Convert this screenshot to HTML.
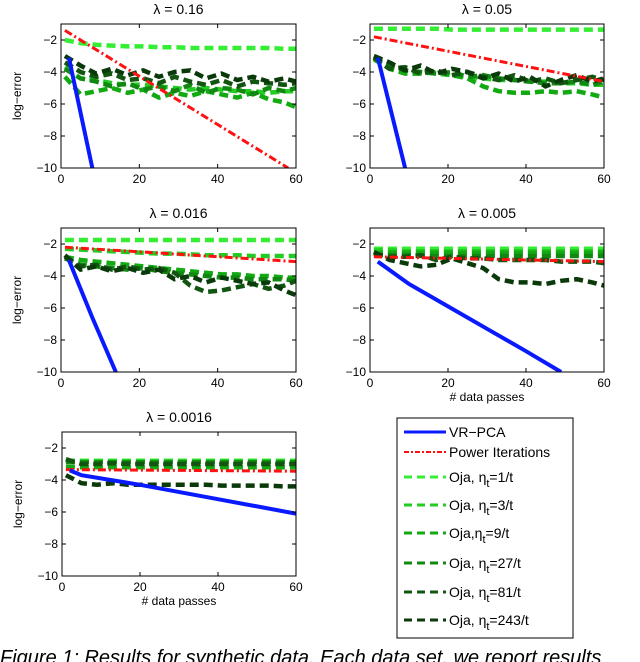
<!DOCTYPE html>
<html><head><meta charset="utf-8"><style>
html,body{margin:0;padding:0;background:#fff;width:640px;height:662px;overflow:hidden}
svg{display:block}
text{font-family:"Liberation Sans",sans-serif}
</style></head><body>
<svg id="fig" width="640" height="662" viewBox="0 0 640 662" xmlns="http://www.w3.org/2000/svg"></svg>
<script>
const xsOja = [1,5,9,13,17,21,25,29,33,37,41,45,49,53,57,60];
const panelTitles = ["λ = 0.16","λ = 0.05","λ = 0.016","λ = 0.005","λ = 0.0016"];
const xTicks = [0,20,40,60];
const yTicks = [-10,-8,-6,-4,-2];
const vrX = [[2,8],[2,9],[2,8,14],[2,10,20,30,40,49],[2,5,20,40,60]];
const vrY = [[-3.1,-10],[-3.1,-10],[-3,-6.6,-10],[-3.1,-4.5,-5.9,-7.3,-8.7,-10],[-3.4,-3.7,-4.3,-5.2,-6.1]];
const pwX = [[1,58],[1,60],[1,60],[1,60],[1,60]];
const pwY = [[-1.4,-10],[-1.8,-4.6],[-2.2,-3.1],[-2.8,-3.1],[-3.35,-3.45]];
const ojaLabels = ["Oja, ηt=1/t","Oja, ηt=3/t","Oja,ηt=9/t","Oja, ηt=27/t","Oja, ηt=81/t","Oja, ηt=243/t"];
const oja0 = [
 [-2,-2.2,-2.3,-2.35,-2.4,-2.4,-2.45,-2.45,-2.5,-2.5,-2.5,-2.5,-2.5,-2.5,-2.55,-2.55],
 [-3.7,-4.4,-4.5,-4.7,-4.8,-4.8,-4.9,-5.0,-5.1,-5.0,-5.1,-5.2,-5.2,-5.3,-5.2,-5.2],
 [-4.3,-5.4,-5.2,-5.0,-5.3,-5.1,-5.6,-5.3,-5.5,-5.2,-5.4,-5.6,-5.3,-5.7,-5.9,-6.2],
 [-3.8,-4.4,-4.6,-4.9,-4.7,-5.1,-4.9,-5.2,-4.8,-5.3,-5.0,-5.1,-5.4,-5.0,-5.2,-5.0],
 [-3.4,-4.0,-4.3,-4.1,-4.5,-4.4,-4.7,-4.3,-4.6,-4.8,-4.5,-4.9,-4.6,-4.7,-4.8,-4.7],
 [-3.0,-3.6,-4.1,-3.8,-4.2,-3.9,-4.3,-4.0,-3.9,-4.4,-4.1,-4.5,-4.3,-4.6,-4.4,-4.6]];
const oja1 = [
 [-1.3,-1.3,-1.3,-1.3,-1.3,-1.35,-1.35,-1.35,-1.35,-1.35,-1.35,-1.35,-1.35,-1.35,-1.35,-1.35],
 [-3.1,-3.7,-3.9,-4.0,-4.1,-4.2,-4.3,-4.4,-4.5,-4.5,-4.6,-4.6,-4.7,-4.7,-4.8,-4.8],
 [-3.2,-3.8,-4.1,-4.1,-4.0,-4.2,-4.4,-4.9,-5.2,-5.3,-5.3,-5.2,-5.3,-5.2,-5.4,-5.6],
 [-3.1,-3.6,-3.9,-4.0,-4.1,-4.0,-4.3,-4.2,-4.4,-4.5,-4.6,-4.7,-4.7,-4.6,-4.8,-4.6],
 [-3.1,-3.8,-3.7,-4.1,-3.9,-4.2,-4.0,-4.3,-4.5,-4.2,-4.6,-4.4,-4.7,-4.5,-4.3,-4.5],
 [-3.0,-3.4,-3.9,-3.6,-4.1,-3.8,-4.0,-4.4,-4.1,-4.6,-4.3,-4.9,-4.5,-4.2,-4.6,-4.4]];
const oja2 = [
 [-1.75,-1.75,-1.75,-1.75,-1.75,-1.75,-1.75,-1.75,-1.75,-1.75,-1.75,-1.75,-1.75,-1.75,-1.75,-1.75],
 [-2.3,-2.35,-2.4,-2.45,-2.5,-2.55,-2.6,-2.6,-2.65,-2.7,-2.7,-2.7,-2.75,-2.75,-2.75,-2.75],
 [-2.8,-3.0,-3.1,-3.2,-3.3,-3.4,-3.5,-3.6,-3.7,-3.8,-3.9,-3.9,-4.0,-4.0,-4.1,-4.1],
 [-2.9,-3.3,-3.4,-3.5,-3.6,-3.5,-3.7,-3.8,-3.9,-4.0,-4.1,-4.1,-4.2,-4.2,-4.2,-4.3],
 [-2.8,-3.4,-3.3,-3.6,-3.4,-3.6,-3.5,-3.8,-4.6,-5.0,-4.9,-4.7,-4.5,-4.8,-4.6,-4.3],
 [-2.7,-3.6,-3.4,-3.7,-3.5,-3.8,-3.6,-4.2,-4.0,-4.4,-4.1,-4.3,-4.5,-4.4,-4.9,-5.2]];
const oja3 = [
 [-2.3,-2.3,-2.3,-2.3,-2.3,-2.3,-2.3,-2.3,-2.3,-2.3,-2.3,-2.3,-2.3,-2.3,-2.3,-2.3],
 [-2.4,-2.4,-2.45,-2.45,-2.45,-2.45,-2.45,-2.45,-2.45,-2.45,-2.45,-2.45,-2.45,-2.45,-2.45,-2.45],
 [-2.55,-2.55,-2.55,-2.55,-2.55,-2.55,-2.55,-2.55,-2.55,-2.55,-2.55,-2.55,-2.55,-2.55,-2.55,-2.55],
 [-2.7,-2.7,-2.7,-2.75,-2.75,-2.75,-2.75,-2.75,-2.75,-2.75,-2.75,-2.75,-2.75,-2.75,-2.75,-2.75],
 [-2.6,-2.8,-2.8,-2.7,-3.0,-2.8,-2.9,-2.9,-3.0,-3.0,-3.0,-3.0,-3.1,-3.1,-3.1,-3.2],
 [-2.5,-3.0,-3.2,-3.4,-3.3,-2.9,-3.2,-3.5,-4.2,-4.4,-4.4,-4.5,-4.3,-4.2,-4.4,-4.6]];
const oja4 = [
 [-2.8,-2.8,-2.8,-2.8,-2.8,-2.8,-2.8,-2.8,-2.8,-2.8,-2.8,-2.8,-2.8,-2.8,-2.8,-2.8],
 [-2.85,-2.85,-2.85,-2.85,-2.85,-2.85,-2.85,-2.85,-2.85,-2.85,-2.85,-2.85,-2.85,-2.85,-2.85,-2.85],
 [-3.2,-3.2,-3.2,-3.2,-3.2,-3.2,-3.2,-3.2,-3.2,-3.2,-3.2,-3.2,-3.2,-3.2,-3.2,-3.2],
 [-2.9,-2.9,-2.9,-2.9,-2.9,-2.9,-2.9,-2.9,-2.9,-2.9,-2.9,-2.9,-2.9,-2.9,-2.9,-2.9],
 [-2.7,-3.0,-3.0,-2.95,-3.0,-3.0,-3.0,-3.0,-3.0,-3.0,-3.0,-3.0,-3.0,-3.0,-3.0,-3.0],
 [-3.7,-4.2,-4.3,-4.2,-4.3,-4.3,-4.3,-4.3,-4.3,-4.3,-4.35,-4.35,-4.35,-4.35,-4.4,-4.4]];
const ojaAll = [oja0,oja1,oja2,oja3,oja4];
const ojaColors = ["#33ee33","#22cc22","#11aa11","#118811","#115511","#0a3a0a"];

const NS="http://www.w3.org/2000/svg";
const svg=document.getElementById('fig');
function mk(tag,attrs,parent){const e=document.createElementNS(NS,tag);for(const k in attrs)e.setAttribute(k,attrs[k]);(parent||svg).appendChild(e);return e;}
const boxes=[[61,24,296,168],[370,24,604,168],[61,228,296,372],[370,228,604,372],[62,432,296,576]];
boxes.forEach((b,p)=>{
 const [x0,y0,x1,y1]=b;
 const sx=v=>x0+(v/60)*(x1-x0);
 const sy=v=>y0+((-1-v)/9)*(y1-y0);
 const g=mk('g',{});
 
 
 const cp=mk('clipPath',{id:'cp'+p},g);
 mk('rect',{x:x0,y:y0,width:x1-x0,height:y1-y0},cp);
 const t=mk('text',{x:(x0+x1)/2,y:y0-10,'text-anchor':'middle','font-size':'14'},g);
 t.textContent=panelTitles[p];
 
 
 const plot=mk('g',{'clip-path':'url(#cp'+p+')'},g);
 ojaAll[p].forEach((ser,i)=>{
  const pts=ser.map((v,j)=>sx(xsOja[j])+','+sy(v)).join(' ');
  const l=mk('polyline',{points:pts,fill:'none',stroke:ojaColors[i],'stroke-width':4.5,'stroke-dasharray':'9 5'},plot);
  
  
 });
 const pw=mk('polyline',{points:pwX[p].map((x,j)=>sx(x)+','+sy(pwY[p][j])).join(' '),fill:'none',stroke:'#ff1111','stroke-width':3,'stroke-dasharray':'8 3 2 3'},plot);
 
 
 const vr=mk('polyline',{points:vrX[p].map((x,j)=>sx(x)+','+sy(vrY[p][j])).join(' '),fill:'none',stroke:'#0a1aff','stroke-width':4},plot);
 
 
 const fr=mk('rect',{x:x0,y:y0,width:x1-x0,height:y1-y0,fill:'none',stroke:'#000','stroke-width':1},g);
 
 
 xTicks.forEach(v=>{
  mk('line',{x1:sx(v),x2:sx(v),y1:y1,y2:y1-4,stroke:'#000'},g);
  mk('line',{x1:sx(v),x2:sx(v),y1:y0,y2:y0+4,stroke:'#000'},g);
  const tl=mk('text',{x:sx(v),y:y1+15,'text-anchor':'middle','font-size':'12'},g);
  tl.textContent=v;
  
  
 });
 yTicks.forEach(v=>{
  mk('line',{x1:x0,x2:x0+4,y1:sy(v),y2:sy(v),stroke:'#000'},g);
  mk('line',{x1:x1,x2:x1-4,y1:sy(v),y2:sy(v),stroke:'#000'},g);
  const tl=mk('text',{x:x0-4,y:sy(v)+4,'text-anchor':'end','font-size':'12'},g);
  tl.textContent=String(v).replace('-','−');
  
  
 });
 if(p%2===0){
  const yl=mk('text',{x:0,y:0,'text-anchor':'middle','font-size':'12',transform:'translate('+(x0-40)+','+((y0+y1)/2)+') rotate(-90)'},g);
  yl.textContent='log−error';
  
  
 }
 if(p>=3){
  const xl=mk('text',{x:(x0+x1)/2,y:y1+29,'text-anchor':'middle','font-size':'12'},g);
  xl.textContent='# data passes';
  
  
 }
});
// legend
const lg=mk('g',{});


mk('rect',{x:397,y:418,width:176,height:220,fill:'#fff',stroke:'#000'},lg);
const rowsY=[432,452,477,505,533,563,592,620];
function entry(i,color,dash,w,parts){
 const e=mk('g',{},lg);
 
 
 const a={x1:404,x2:446,y1:rowsY[i],y2:rowsY[i],stroke:color,'stroke-width':w};
 if(dash)a['stroke-dasharray']=dash;
 mk('line',a,e);
 const t=mk('text',{x:449,y:rowsY[i]+5,'font-size':'14'},e);
 t.innerHTML=parts;
}
entry(0,'#0a1aff',null,3,'VR−PCA');
entry(1,'#ff1111','5 2 2 2',2,'Power Iterations');
const rates=["1/t","3/t","9/t","27/t","81/t","243/t"];
rates.forEach((r,i)=>{
 const pre=i===2?'Oja,':'Oja, ';
 entry(i+2,ojaColors[i],'8 5',3,pre+'η<tspan dy="5" font-size="11">t</tspan><tspan dy="-5">='+r+'</tspan>');
});
const cap=mk('text',{x:0,y:664,'font-size':'20','font-style':'italic','font-family':'"Liberation Serif",serif'});
cap.textContent='Figure 1: Results for synthetic data. Each data set, we report results';


</script>
</body></html>
